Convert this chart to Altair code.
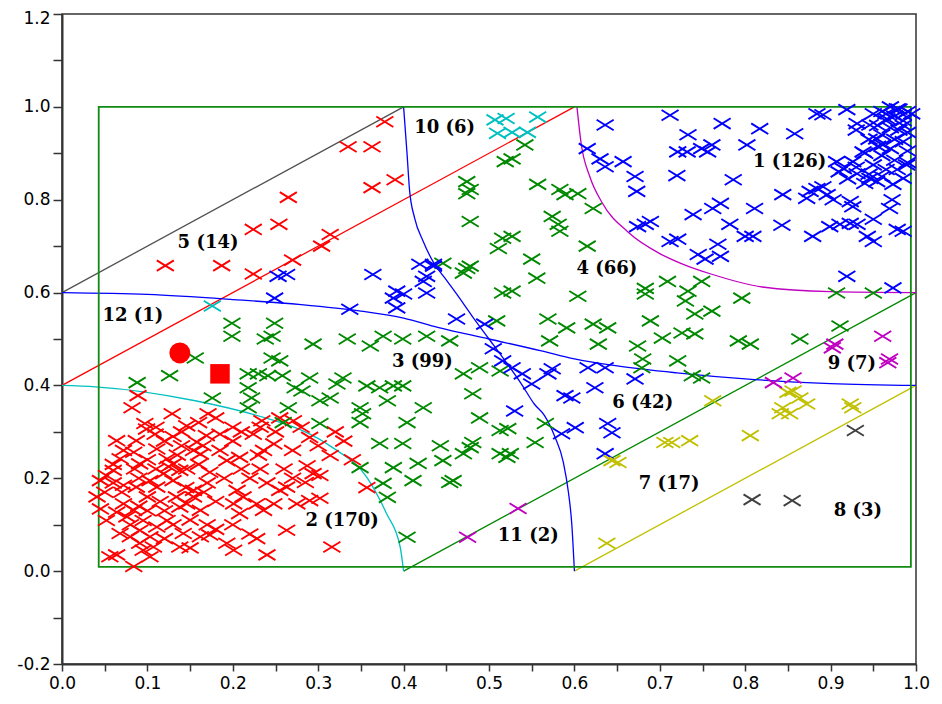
import altair as alt
import pandas as pd

# ---------------- data ----------------
x_ticks = [0.0, 0.05, 0.1, 0.15, 0.2, 0.25, 0.3, 0.35, 0.4, 0.45, 0.5,
           0.55, 0.6, 0.65, 0.7, 0.75, 0.8, 0.85, 0.9, 0.95, 1.0]
y_ticks = [-0.2, -0.1, 0.0, 0.1, 0.2, 0.3, 0.4, 0.5, 0.6, 0.7, 0.8, 0.9,
           1.0, 1.1, 1.2]

pts_1 = [[0.636,0.961],[0.712,0.982],[0.733,0.94],[0.721,0.903],[0.732,0.903],[0.749,0.91],
         [0.756,0.903],[0.615,0.91],[0.63,0.888],[0.636,0.871],[0.657,0.882],[0.671,0.85],
         [0.673,0.818],[0.72,0.852],[0.683,0.747],[0.674,0.742],[0.689,0.753],[0.739,0.768],
         [0.712,0.71],[0.721,0.715],[0.745,0.682],[0.753,0.672],[0.762,0.781],
         [0.884,0.985],[0.891,0.983],[0.919,0.994],[0.773,0.964],[0.817,0.953],[0.858,0.942],
         [0.802,0.918],[0.761,0.918],[0.931,0.964],[0.946,0.961],[0.966,0.974],[0.978,0.996],
         [0.985,0.983],[0.954,0.931],[0.961,0.918],[0.938,0.903],[0.926,0.882],[0.907,0.882],
         [0.915,0.867],[0.931,0.856],[0.946,0.846],[0.954,0.839],[0.978,0.865],[0.985,0.846],
         [0.989,0.875],[0.884,0.824],[0.876,0.818],[0.891,0.828],[0.896,0.811],[0.872,0.803],
         [0.903,0.8],[0.844,0.811],[0.786,0.843],[0.771,0.792],[0.811,0.781],[0.923,0.796],
         [0.926,0.785],[0.972,0.8],[0.969,0.781],[0.973,0.833],[0.782,0.747],[0.843,0.745],
         [0.8,0.721],[0.809,0.721],[0.879,0.721],[0.899,0.742],[0.911,0.747],[0.923,0.749],
         [0.95,0.758],[0.931,0.747],[0.943,0.721],[0.95,0.71],[0.978,0.736],[0.985,0.732],
         [0.768,0.704],[0.771,0.678],[0.919,0.635],[0.973,0.61],
         [0.96,0.99],[0.97,1.0],[0.98,0.995],[0.99,0.99],[0.975,0.98],[0.985,0.97],[0.965,0.97],
         [0.95,0.985],[0.955,0.96],[0.97,0.955],[0.98,0.95],[0.99,0.945],[0.96,0.94],[0.975,0.93],
         [0.985,0.925],[0.945,0.93],[0.955,0.915],[0.97,0.91],[0.99,0.905],[0.94,0.9],[0.96,0.895],
         [0.975,0.885],[0.95,0.875],[0.965,0.865],[0.99,0.88],[0.93,0.87],[0.945,0.855],[0.96,0.85],
         [0.92,0.845],[0.94,0.835],[0.91,0.86],[0.985,0.96],[0.995,0.985],[0.965,0.985],[0.93,0.95]]

pts_2 = [[0.099,0.306],[0.109,0.295],[0.146,0.313],[0.158,0.278],[0.169,0.292],[0.185,0.295],
         [0.154,0.26],[0.162,0.252],[0.232,0.31],[0.224,0.295],[0.248,0.274],[0.236,0.26],
         [0.271,0.324],[0.068,0.242],[0.084,0.256],[0.091,0.231],[0.111,0.263],[0.123,0.242],
         [0.13,0.231],[0.138,0.217],[0.146,0.22],[0.173,0.213],[0.232,0.22],[0.208,0.245],
         [0.052,0.206],[0.06,0.217],[0.045,0.195],[0.041,0.16],[0.045,0.134],[0.072,0.185],
         [0.087,0.181],[0.103,0.195],[0.111,0.181],[0.084,0.131],[0.076,0.117],[0.095,0.109],
         [0.111,0.095],[0.091,0.088],[0.068,0.081],[0.08,0.074],[0.103,0.074],[0.091,0.06],
         [0.107,0.052],[0.134,0.16],[0.146,0.145],[0.154,0.16],[0.138,0.138],[0.162,0.131],
         [0.154,0.174],[0.166,0.17],[0.205,0.174],[0.212,0.16],[0.201,0.145],[0.208,0.124],
         [0.228,0.145],[0.236,0.131],[0.248,0.145],[0.263,0.181],[0.255,0.174],[0.275,0.145],
         [0.142,0.081],[0.162,0.074],[0.173,0.078],[0.193,0.06],[0.201,0.045],[0.138,0.052],
         [0.228,0.07],[0.263,0.088],[0.24,0.035],[0.056,0.031],[0.064,0.035],[0.084,0.01],
         [0.103,0.031],[0.123,0.109],[0.064,0.127],[0.052,0.109],[0.072,0.145],[0.13,0.195],
         [0.119,0.21],[0.185,0.26],[0.193,0.238],[0.064,0.281],[0.072,0.26],[0.087,0.281],
         [0.089,0.378],[0.082,0.352],[0.129,0.339],[0.171,0.339],[0.097,0.318],[0.234,0.324],
         [0.29,0.288],[0.314,0.249],[0.287,0.227],[0.294,0.21],[0.302,0.206],[0.285,0.191],
         [0.357,0.18],[0.29,0.152],[0.302,0.157],[0.316,0.052],
         [0.12,0.28],[0.14,0.27],[0.1,0.24],[0.11,0.22],[0.125,0.225],[0.09,0.2],[0.1,0.16],
         [0.115,0.15],[0.12,0.13],[0.1,0.13],[0.09,0.14],[0.13,0.1],[0.15,0.11],[0.17,0.1],
         [0.18,0.15],[0.19,0.2],[0.16,0.23],[0.2,0.28],[0.21,0.3],[0.25,0.3],[0.27,0.26],
         [0.26,0.22],[0.22,0.2],[0.24,0.19],[0.2,0.1],[0.22,0.08],[0.18,0.09],[0.07,0.17],
         [0.06,0.19],[0.08,0.1],[0.12,0.07],[0.15,0.05],[0.27,0.2],[0.3,0.27],[0.32,0.3],
         [0.28,0.31],[0.14,0.3],[0.2,0.31],[0.16,0.32],[0.18,0.33],[0.13,0.29],[0.11,0.31],
         [0.06,0.23],[0.05,0.17],[0.21,0.22],[0.23,0.25],[0.17,0.19],[0.145,0.18],[0.135,0.25],
         [0.165,0.27],[0.085,0.22],[0.095,0.045],[0.255,0.33],[0.33,0.28],[0.34,0.24]]

pts_3 = [[0.199,0.534],[0.199,0.506],[0.249,0.534],[0.246,0.506],[0.238,0.5],[0.246,0.459],
         [0.255,0.453],[0.156,0.459],[0.126,0.421],[0.088,0.406],[0.218,0.425],[0.23,0.425],
         [0.241,0.421],[0.258,0.421],[0.218,0.395],[0.222,0.373],[0.176,0.373],[0.218,0.352],
         [0.265,0.352],[0.273,0.395],[0.281,0.388],[0.294,0.489],[0.334,0.5],[0.361,0.485],
         [0.376,0.506],[0.399,0.5],[0.427,0.506],[0.454,0.496],[0.29,0.416],[0.329,0.416],
         [0.322,0.403],[0.357,0.399],[0.372,0.395],[0.388,0.399],[0.399,0.399],[0.302,0.367],
         [0.314,0.373],[0.349,0.352],[0.352,0.339],[0.381,0.367],[0.423,0.352],[0.47,0.425],
         [0.489,0.438],[0.481,0.382],[0.489,0.33],[0.513,0.431],[0.372,0.275],[0.399,0.275],
         [0.443,0.27],[0.481,0.277],[0.478,0.266],[0.513,0.303],[0.349,0.223],[0.388,0.223],
         [0.417,0.232],[0.446,0.238],[0.47,0.253],[0.411,0.195],[0.454,0.191],[0.458,0.195],
         [0.376,0.189],[0.381,0.159],[0.404,0.073],[0.513,0.253],[0.521,0.245],[0.302,0.318],
         [0.349,0.32],[0.404,0.32],[0.522,0.307],[0.566,0.318],[0.554,0.277],[0.525,0.253],
         [0.259,0.32]]

pts_4 = [[0.474,0.839],[0.478,0.822],[0.474,0.813],[0.478,0.753],[0.519,0.882],[0.516,0.717],
         [0.511,0.695],[0.446,0.663],[0.478,0.657],[0.542,0.918],[0.527,0.888],[0.557,0.833],
         [0.583,0.822],[0.589,0.811],[0.604,0.813],[0.622,0.781],[0.574,0.764],[0.581,0.747],
         [0.583,0.732],[0.527,0.721],[0.615,0.7],[0.55,0.672],[0.556,0.631],[0.527,0.603],
         [0.604,0.592],[0.569,0.543],[0.591,0.524],[0.622,0.532],[0.639,0.524],[0.571,0.496],
         [0.628,0.489],[0.683,0.609],[0.709,0.624],[0.683,0.597],[0.733,0.603],[0.749,0.624],
         [0.73,0.582],[0.741,0.554],[0.689,0.539],[0.703,0.502],[0.726,0.513],[0.741,0.511],
         [0.674,0.485],[0.68,0.457],[0.679,0.438],[0.721,0.453],[0.738,0.421],[0.749,0.416],
         [0.796,0.588],[0.907,0.599],[0.95,0.599],[0.761,0.56],[0.792,0.496],[0.806,0.489],
         [0.864,0.5],[0.911,0.528],[0.47,0.642],[0.474,0.652],[0.516,0.599],[0.509,0.539]]

pts_5 = [[0.378,0.968],[0.335,0.914],[0.363,0.914],[0.363,0.826],[0.39,0.843],[0.265,0.805],
         [0.254,0.747],[0.224,0.736],[0.314,0.725],[0.304,0.7],[0.27,0.67],[0.121,0.658],
         [0.187,0.658],[0.224,0.64]]

pts_6 = [[0.253,0.635],[0.263,0.639],[0.249,0.588],[0.419,0.661],[0.435,0.661],[0.364,0.639],
         [0.435,0.657],[0.427,0.635],[0.423,0.624],[0.392,0.603],[0.4,0.597],[0.388,0.588],
         [0.427,0.599],[0.337,0.564],[0.392,0.567],[0.462,0.543],[0.495,0.532],[0.505,0.479],
         [0.516,0.453],[0.527,0.438],[0.539,0.425],[0.55,0.403],[0.574,0.436],[0.569,0.425],
         [0.616,0.438],[0.636,0.438],[0.671,0.414],[0.624,0.395],[0.589,0.378],[0.597,0.373],
         [0.53,0.345],[0.585,0.296],[0.601,0.309],[0.644,0.298],[0.639,0.318],[0.636,0.253]]

pts_7 = [[0.856,0.388],[0.864,0.373],[0.872,0.36],[0.844,0.352],[0.841,0.339],[0.852,0.339],
         [0.923,0.36],[0.926,0.352],[0.762,0.367],[0.706,0.277],[0.714,0.277],[0.735,0.281],
         [0.651,0.234],[0.644,0.238],[0.638,0.06],[0.806,0.292],[0.85,0.385]]
pts_8 = [[0.929,0.303],[0.808,0.154],[0.855,0.152]]
pts_9 = [[0.961,0.506],[0.969,0.457],[0.967,0.449],[0.905,0.489],[0.902,0.481],[0.833,0.406],
         [0.856,0.416]]
pts_10 = [[0.507,0.972],[0.52,0.975],[0.527,0.945],[0.557,0.978],[0.545,0.945],[0.51,0.943]]
pts_11 = [[0.475,0.073],[0.534,0.135]]
pts_12 = [[0.176,0.571]]

clusters = [("1", pts_1), ("2", pts_2), ("3", pts_3), ("4", pts_4), ("5", pts_5),
            ("6", pts_6), ("7", pts_7), ("8", pts_8), ("9", pts_9), ("10", pts_10),
            ("11", pts_11), ("12", pts_12)]

# boundary lines
line_black = [[0.0, 0.6], [0.4, 1.0]]
line_red = [[0.0, 0.4], [0.6, 1.0]]
line_green = [[0.4, 0.0], [1.0, 0.6]]
line_yellow = [[0.6, 0.0], [1.0, 0.4]]
curve_blue_h = [[0.0,0.6],[0.1,0.596],[0.2,0.585],[0.28,0.574],[0.35,0.56],[0.4,0.545],
                [0.44,0.525],[0.5,0.5],[0.56,0.475],[0.6,0.457],[0.65,0.442],[0.72,0.427],
                [0.8,0.414],[0.9,0.404],[1.0,0.4]]
curve_blue_v = [[0.4,1.0],[0.404,0.9],[0.407,0.82],[0.413,0.76],[0.423,0.71],[0.435,0.665],
                [0.448,0.632],[0.462,0.597],[0.48,0.55],[0.5,0.5],[0.52,0.45],[0.538,0.403],
                [0.553,0.36],[0.565,0.335],[0.577,0.29],[0.587,0.235],[0.593,0.17],
                [0.597,0.1],[0.6,0.0]]
curve_magenta = [[0.603,1.0],[0.608,0.92],[0.618,0.85],[0.632,0.795],[0.663,0.73],
                 [0.7,0.684],[0.726,0.662],[0.76,0.64],[0.82,0.612],[0.9,0.602],[1.0,0.6]]
curve_cyan = [[0.0,0.4],[0.039,0.397],[0.156,0.367],[0.249,0.324],[0.279,0.305],
              [0.317,0.266],[0.357,0.202],[0.38,0.124],[0.396,0.052],[0.4,0.0]]

box_x = [0.043, 0.994]
box_y = [0.009, 1.0]

circle_pt = [0.138, 0.47]
square_pt = [0.185, 0.425]

label_text = ["1 (126)", "2 (170)", "3 (99)", "4 (66)", "5 (14)", "6 (42)", "7 (17)",
              "8 (3)", "9 (7)", "10 (6)", "11 (2)", "12 (1)"]
label_x = [0.852, 0.328, 0.422, 0.638, 0.171, 0.680, 0.711, 0.932, 0.925, 0.448, 0.546, 0.083]
label_y = [0.882, 0.107, 0.450, 0.651, 0.707, 0.362, 0.188, 0.129, 0.446, 0.955, 0.075, 0.549]

# ---------------- styling ----------------
cluster_names = [c[0] for c in clusters]
cluster_colors = ["#0000ff", "#ff0000", "#008800", "#008800", "#ff0000", "#0000ff",
                  "#c0c000", "#404040", "#c000c0", "#00c0c0", "#c000c0", "#00c0c0"]

seg_defs = [("black", line_black, "#505050"), ("red", line_red, "#ff0000"),
            ("green", line_green, "#008800"), ("yellow", line_yellow, "#c0c000"),
            ("blueh", curve_blue_h, "#0000ff"), ("bluev", curve_blue_v, "#0000ff"),
            ("magenta", curve_magenta, "#c000c0"), ("cyan", curve_cyan, "#00c0c0")]

rows = []
for name, pts in clusters:
    for p in pts:
        rows.append({"x": p[0], "y": p[1], "cluster": name})
pts_df = pd.DataFrame(rows)

lrows = []
for name, pts, _c in seg_defs:
    for i, p in enumerate(pts):
        lrows.append({"x": p[0], "y": p[1], "seg": name, "ord": i})
lines_df = pd.DataFrame(lrows)

xs = alt.Scale(domain=[0, 1], nice=False, zero=False)
ys = alt.Scale(domain=[-0.2, 1.2], nice=False, zero=False)

x_label_expr = ("(round(datum.value*20) % 2 == 0) ? format(round(datum.value*10)/10, '.1f') : ''")
y_label_expr = ("(round(datum.value*10) % 2 == 0) ? ((round(datum.value*10) < 0 ? '-' : '') + "
                "format(abs(round(datum.value*10))/10, '.1f')) : ''")

axis_common = dict(grid=False, title=None, domainColor="#333333", domainWidth=2,
                   tickColor="#333333", tickWidth=1.5, labelFont="DejaVu Sans",
                   labelFontSize=17, labelColor="#000000", labelFlush=False,
                   labelOverlap=False)
x_axis = alt.Axis(values=x_ticks, labelExpr=x_label_expr, tickSize=7, labelPadding=4,
                  **axis_common)
y_axis = alt.Axis(values=y_ticks, labelExpr=y_label_expr, tickSize=9, labelPadding=3,
                  labelOffset={"condition": {"test": "datum.value > 1.15", "value": 4},
                               "value": 0},
                  **axis_common)

XSYM = "M-1,-0.62L1,0.62M-1,0.62L1,-0.62"


def X():
    return alt.X("x:Q", scale=xs, axis=x_axis)


def Y():
    return alt.Y("y:Q", scale=ys, axis=y_axis)


lines = alt.Chart(lines_df).mark_line(strokeWidth=1.3, interpolate="monotone").encode(
    x=X(), y=Y(),
    detail="seg:N",
    order="ord:Q",
    color=alt.Color("seg:N", scale=alt.Scale(domain=[s[0] for s in seg_defs],
                                            range=[s[2] for s in seg_defs]), legend=None),
)

box = alt.Chart(pd.DataFrame({"x": [box_x[0]], "x2": [box_x[1]],
                              "y": [box_y[0]], "y2": [box_y[1]]})).mark_rect(
    fillOpacity=0, stroke="#108a10", strokeWidth=1.8).encode(
    x=X(), x2="x2:Q", y=Y(), y2="y2:Q")

scatter = alt.Chart(pts_df).mark_point(shape=XSYM, size=290, strokeWidth=1.9,
                                       opacity=1, filled=False).encode(
    x=X(), y=Y(),
    stroke=alt.Stroke("cluster:N", scale=alt.Scale(domain=cluster_names, range=cluster_colors),
                      legend=None),
)

circle = alt.Chart(pd.DataFrame({"x": [circle_pt[0]], "y": [circle_pt[1]]})).mark_point(
    shape="circle", filled=True, size=440, color="#ff0000", opacity=1).encode(x=X(), y=Y())

square = alt.Chart(pd.DataFrame({"x": [square_pt[0]], "y": [square_pt[1]]})).mark_point(
    shape="square", filled=True, size=380, color="#ff0000", opacity=1).encode(x=X(), y=Y())

labels = alt.Chart(pd.DataFrame({"t": label_text, "x": label_x, "y": label_y})).mark_text(
    font="DejaVu Serif", fontWeight="bold", fontSize=18, color="#000000",
    align="center", baseline="middle").encode(x=X(), y=Y(), text="t:N")

chart = alt.layer(lines, box, scatter, circle, square, labels).resolve_scale(
    color="independent", stroke="independent"
).properties(
    width=854, height=650,
    autosize=alt.AutoSizeParams(type="none"),
    padding={"left": 54, "top": 6, "right": 16, "bottom": 28},
).configure_view(stroke="#333333", strokeWidth=1.5)

chart.save("out.html", embed_options={"renderer": "svg", "actions": False})
